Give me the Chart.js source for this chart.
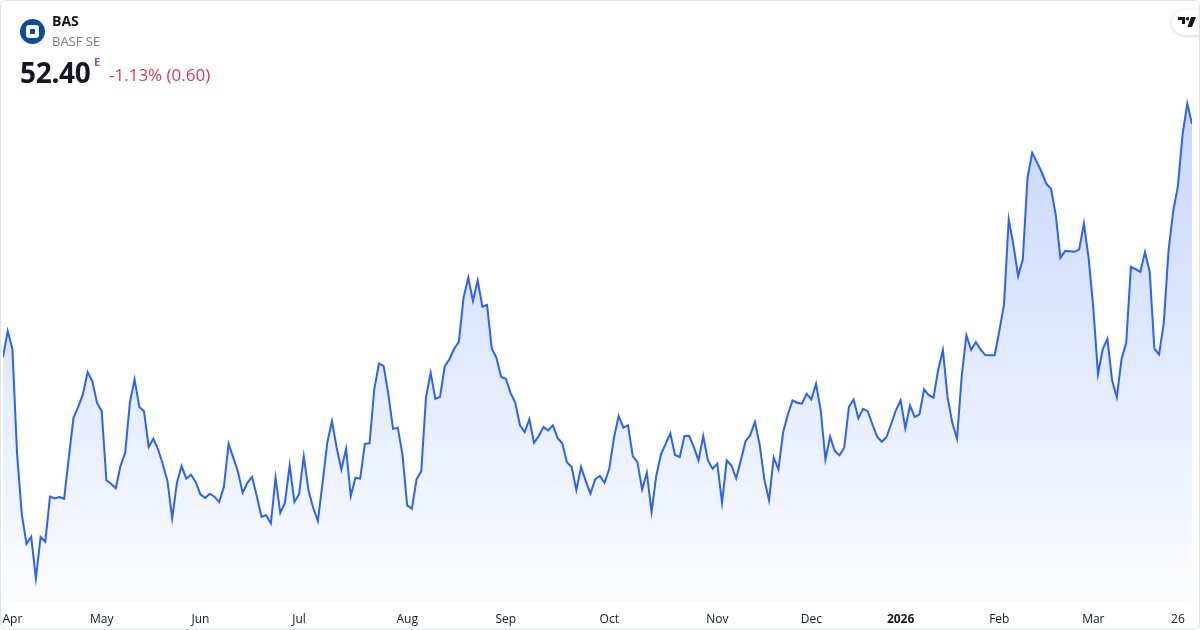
<!DOCTYPE html>
<html>
<head>
<meta charset="utf-8">
<script src="https://cdn.jsdelivr.net/npm/chart.js@4.4.1/dist/chart.umd.min.js"></script>
<style>
  html, body { margin: 0; padding: 0; background: #fff; }
  body { width: 1200px; height: 630px; overflow: hidden; font-family: "Open Sans", sans-serif; }
  .frame { position: absolute; left: 0; top: 0; width: 1200px; height: 630px; box-sizing: border-box;
           border: 1px solid #e0e3eb; border-radius: 6px; overflow: hidden; }
  .chart-box { position: absolute; left: 0; top: 0; width: 1200px; height: 630px; }
  .logo { position: absolute; left: 19px; top: 18px; width: 25px; height: 25px; border-radius: 50%; background: #0c4c9e; }
  .logo .sq { position: absolute; left: 6px; top: 6px; width: 13px; height: 13px; border-radius: 3px; background: #fff; }
  .logo .in { position: absolute; left: 4px; top: 4px; width: 5px; height: 5px; background: #0c4c9e; }
  .txt { position: absolute; line-height: 1; white-space: nowrap; }
  .sym { left: 51px; top: 13px; font-size: 14px; font-weight: 700; color: #131722; }
  .name { left: 51px; top: 34px; font-size: 13px; color: #787b86; }
  .price { left: 19px; top: 57px; font-size: 28px; font-weight: 700; color: #131722; letter-spacing: -0.3px; }
  .flag { left: 93px; top: 55px; font-size: 11px; font-weight: 700; color: #a53fc4; }
  .chg { left: 108px; top: 65px; font-size: 17px; color: #e5364a; }
  .tv { position: absolute; left: 1171px; top: 9px; width: 44px; height: 25px; border-radius: 13px; background: #fff;
        box-shadow: 0 1px 4px rgba(0,0,0,0.18); }
  .tv svg { position: absolute; left: 6px; top: 7px; }
</style>
</head>
<body>
<div class="frame">
  <div class="chart-box"><canvas id="chart" width="1200" height="630"></canvas></div>

  <div class="logo"><div class="sq"><div class="in"></div></div></div>
  <div class="txt sym">BAS</div>
  <div class="txt name">BASF SE</div>
  <div class="txt price">52.40</div>
  <div class="txt flag">E</div>
  <div class="txt chg">-1.13% (0.60)</div>

  <div class="tv">
    <svg width="18" height="10" viewBox="0 0 36 20">
      <path d="M0 0h14v14H8V6H0z" fill="#131722"/>
      <circle cx="19" cy="3.5" r="3.5" fill="#131722"/>
      <path d="M26 0h10l-8 20h-9z" fill="#131722"/>
    </svg>
  </div>
</div>

<script>
// daily closes, Mar 2025 -> Mar 2026 (EUR)
const prices = [
  44.63, 45.50, 44.91, 41.40, 39.40, 38.41, 38.64, 37.26, 38.64, 38.48,
  39.98, 39.92, 39.97, 39.91, 41.28, 42.61, 42.97, 43.39, 44.13, 43.83,
  43.11, 42.83, 40.53, 40.41, 40.26, 41.00, 41.44, 43.11, 43.89, 42.97,
  42.83, 41.64, 41.91, 41.56, 41.06, 40.50, 39.26, 40.44, 41.00, 40.58,
  40.71, 40.47, 40.06, 39.94, 40.08, 39.98, 39.80, 40.31, 41.74, 41.28,
  40.81, 40.11, 40.44, 40.64, 40.00, 39.31, 39.36, 39.09, 40.61, 39.44,
  39.78, 41.02, 39.80, 40.06, 41.33, 40.19, 39.61, 39.17, 40.44, 41.78,
  42.50, 41.61, 40.89, 41.58, 40.00, 40.61, 40.58, 41.74, 41.76, 43.56,
  44.42, 44.33, 43.39, 42.24, 42.28, 41.39, 39.69, 39.58, 40.56, 40.83,
  43.28, 44.11, 43.24, 43.31, 44.33, 44.56, 44.91, 45.14, 46.61, 47.28,
  46.50, 47.19, 46.31, 46.37, 44.92, 44.61, 43.97, 43.91, 43.44, 43.11,
  42.36, 42.13, 42.56, 41.78, 42.00, 42.30, 42.19, 42.36, 41.94, 41.76,
  41.13, 40.97, 40.20, 40.97, 40.50, 40.08, 40.56, 40.67, 40.44, 40.91,
  41.94, 42.67, 42.28, 42.36, 41.33, 41.13, 40.22, 40.78, 39.47, 40.67,
  41.39, 41.74, 42.09, 41.37, 41.30, 42.00, 42.01, 41.63, 41.19, 42.00,
  41.19, 40.91, 41.08, 39.78, 41.19, 41.02, 40.59, 41.19, 41.83, 42.03,
  42.47, 41.72, 40.56, 39.86, 41.28, 40.89, 42.13, 42.72, 43.19, 43.11,
  43.08, 43.41, 43.22, 43.74, 42.86, 41.22, 41.98, 41.50, 41.36, 41.61,
  42.97, 43.22, 42.59, 42.91, 42.83, 42.39, 41.98, 41.81, 41.97, 42.41,
  42.86, 43.19, 42.26, 43.02, 42.63, 42.72, 43.56, 43.36, 43.28, 44.22,
  44.86, 43.28, 42.44, 41.91, 44.00, 45.36, 44.87, 45.13, 44.89, 44.70,
  44.69, 44.69, 45.50, 46.39, 49.22, 48.37, 47.33, 47.89, 50.61, 51.44,
  51.13, 50.80, 50.41, 50.24, 49.39, 47.94, 48.17, 48.16, 48.14, 48.22,
  49.09, 47.94, 46.28, 44.06, 44.89, 45.24, 43.86, 43.30, 44.56, 45.11,
  47.64, 47.56, 47.47, 48.13, 47.47, 44.91, 44.72, 45.78, 48.17, 49.50,
  50.33, 52.06, 53.08, 52.40
];

// trading-day index where each time label sits
const tickIndex = [2, 21, 42, 63, 86, 107, 129, 152, 172, 191, 212, 232, 250];
const tickLabels = ['Apr', 'May', 'Jun', 'Jul', 'Aug', 'Sep', 'Oct', 'Nov', 'Dec', '2026', 'Feb', 'Mar', '26'];

const priceMin = 36.47;
const priceMax = 54.5;

const points = prices.map((p, i) => ({ x: i, y: p }));

const ctx = document.getElementById('chart').getContext('2d');

new Chart(ctx, {
    type: 'line',
    data: {
        datasets: [{
            data: points,
            borderColor: '#2962ff',
            borderWidth: 2,
            pointRadius: 0,
            tension: 0,
            fill: 'start',
            backgroundColor: (context) => {
                const area = context.chart.chartArea;
                if (!area) return 'rgba(41, 98, 255, 0.1)';
                const g = context.chart.ctx.createLinearGradient(0, area.top, 0, area.bottom);
                g.addColorStop(0, 'rgba(41, 98, 255, 0.28)');
                g.addColorStop(1, 'rgba(41, 98, 255, 0.02)');
                return g;
            }
        }]
    },
    options: {
        responsive: false,
        animation: false,
        layout: {
            padding: { left: 2, right: 9, top: 60, bottom: 0 }
        },
        plugins: {
            legend: { display: false },
            tooltip: { enabled: false }
        },
        scales: {
            x: {
                type: 'linear',
                min: 0,
                max: prices.length - 1,
                grid: { display: false, drawTicks: false },
                border: { display: false },
                afterBuildTicks: (axis) => {
                    axis.ticks = tickIndex.map(v => ({ value: v }));
                },
                afterFit: (axis) => {
                    // labels may hang past the plot edges, like the original
                    axis.paddingLeft = 0;
                    axis.paddingRight = 0;
                    axis.height = 29;
                },
                ticks: {
                    padding: 10,
                    maxRotation: 0,
                    autoSkip: false,
                    color: '#131722',
                    font: (c) => ({
                        family: 'Open Sans',
                        size: 12,
                        weight: tickLabels[c.index] === '2026' ? 700 : 400
                    }),
                    callback: (value, index) => tickLabels[index]
                }
            },
            y: {
                display: false,
                min: priceMin,
                max: priceMax
            }
        }
    }
});
</script>
</body>
</html>
